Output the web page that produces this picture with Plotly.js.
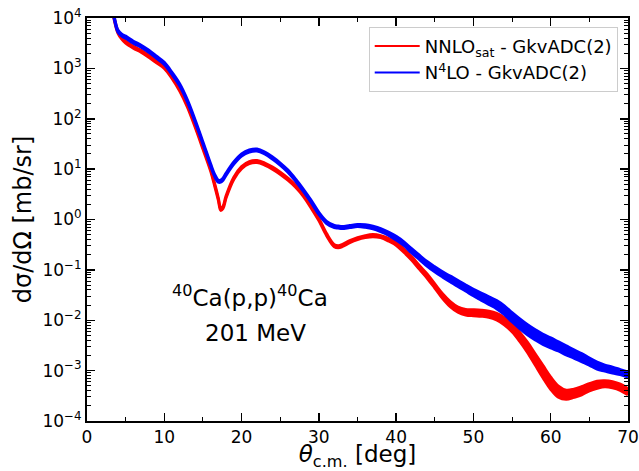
<!DOCTYPE html>
<html><head><meta charset="utf-8">
<script src="https://cdn.plot.ly/plotly-3.0.1.min.js"></script>
<style>body{margin:0;background:#fff}#chart{width:639px;height:471px}</style>
</head><body><div id="chart"></div>
<script>
// scattering angle (deg)
const theta = [3.0,3.5,4.0,4.5,5,6,7,8,9,10,11,12,13,14,15,16,16.5,17,17.3,17.6,18,19,20,21,22,23,24,25,26,27,28,29,30,31,32,32.5,33,34,35,36,37,38,39,40,41,42,43,44,45,46,47,48,49,50,51,52,53,54,55,56,57,58,59,60,61,62,63,64,65,66,67,68,69,70];
// log10 of dσ/dΩ, band centre, NNLOsat
const redLogCenter = [4.4,4.0,3.72,3.6,3.52,3.42,3.34,3.24,3.13,3.02,2.82,2.57,2.25,1.85,1.42,0.98,0.70,0.40,0.20,0.24,0.45,0.82,1.03,1.13,1.15,1.10,1.02,0.92,0.80,0.66,0.48,0.25,0.0,-0.30,-0.52,-0.54,-0.52,-0.44,-0.38,-0.34,-0.32,-0.34,-0.40,-0.48,-0.62,-0.77,-0.95,-1.12,-1.32,-1.52,-1.68,-1.79,-1.84,-1.85,-1.86,-1.88,-1.93,-2.02,-2.15,-2.33,-2.54,-2.78,-3.02,-3.25,-3.42,-3.48,-3.45,-3.40,-3.33,-3.28,-3.26,-3.28,-3.33,-3.42];
// band half-width in log10, NNLOsat
const redLogHalf = [0.02,0.02,0.02,0.02,0.02,0.02,0.02,0.02,0.02,0.02,0.02,0.02,0.02,0.02,0.02,0.02,0.02,0.02,0.02,0.02,0.02,0.02,0.02,0.02,0.02,0.02,0.02,0.02,0.02,0.02,0.02,0.02,0.02,0.02,0.02,0.02,0.02,0.02,0.02,0.02,0.02,0.02,0.025,0.03,0.03,0.035,0.035,0.04,0.04,0.045,0.05,0.05,0.055,0.06,0.06,0.06,0.065,0.07,0.08,0.09,0.10,0.11,0.12,0.12,0.11,0.09,0.08,0.08,0.07,0.07,0.06,0.06,0.06,0.06];
// log10 of dσ/dΩ, band centre, N4LO
const blueLogCenter = [4.4,4.02,3.74,3.66,3.62,3.52,3.44,3.34,3.22,3.10,2.90,2.67,2.35,1.95,1.52,1.08,0.88,0.76,0.76,0.80,0.90,1.12,1.28,1.36,1.38,1.32,1.22,1.10,0.96,0.78,0.58,0.36,0.12,-0.06,-0.14,-0.15,-0.16,-0.14,-0.12,-0.13,-0.16,-0.21,-0.28,-0.37,-0.48,-0.62,-0.75,-0.88,-0.99,-1.09,-1.18,-1.27,-1.36,-1.45,-1.53,-1.61,-1.69,-1.80,-1.94,-2.07,-2.19,-2.29,-2.38,-2.45,-2.52,-2.60,-2.67,-2.74,-2.82,-2.90,-2.95,-2.99,-3.03,-3.08];
// band half-width in log10, N4LO
const blueLogHalf = [0.02,0.02,0.02,0.02,0.02,0.02,0.02,0.02,0.02,0.02,0.02,0.02,0.02,0.02,0.02,0.02,0.02,0.02,0.02,0.02,0.02,0.02,0.02,0.02,0.02,0.02,0.02,0.02,0.02,0.02,0.02,0.02,0.02,0.02,0.02,0.02,0.02,0.02,0.02,0.025,0.025,0.03,0.03,0.035,0.035,0.04,0.04,0.045,0.05,0.05,0.055,0.06,0.06,0.065,0.07,0.075,0.08,0.085,0.09,0.095,0.10,0.10,0.10,0.10,0.09,0.09,0.08,0.08,0.07,0.07,0.06,0.06,0.05,0.05];

const seriesNames = ["NNLO<sub>sat</sub> - GkvADC(2)", "N<sup>4</sup>LO - GkvADC(2)"];
const seriesColors = ["#ff0000", "#0000ff"];
const xTicks = [0,10,20,30,40,50,60,70];
const yTickVals = [1e-4,1e-3,1e-2,1e-1,1e0,1e1,1e2,1e3,1e4];
const yTickText = ["10<sup>−4</sup>","10<sup>−3</sup>","10<sup>−2</sup>","10<sup>−1</sup>","10<sup>0</sup>","10<sup>1</sup>","10<sup>2</sup>","10<sup>3</sup>","10<sup>4</sup>"];

function band(center, half, color) {
  const lo = center.map((c,i)=>Math.pow(10, c - half[i]));
  const hi = center.map((c,i)=>Math.pow(10, c + half[i]));
  return [
    {x: theta, y: lo, mode:'lines', line:{color:color, width:3, shape:'spline'}, showlegend:false, hoverinfo:'skip'},
    {x: theta, y: hi, mode:'lines', line:{color:color, width:3, shape:'spline'}, fill:'tonexty', fillcolor:color, showlegend:false, hoverinfo:'skip'}
  ];
}

const data = [
  ...band(redLogCenter, redLogHalf, seriesColors[0]),
  ...band(blueLogCenter, blueLogHalf, seriesColors[1]),
  {x:[null], y:[null], mode:'lines', line:{color:seriesColors[0], width:2}, name:seriesNames[0]},
  {x:[null], y:[null], mode:'lines', line:{color:seriesColors[1], width:2}, name:seriesNames[1]}
];

const font = "DejaVu Sans, sans-serif";
const layout = {
  width:639, height:471,
  margin:{l:87, r:11, t:18, b:50},
  paper_bgcolor:'#fff', plot_bgcolor:'#fff',
  font:{family:font, color:'#000', size:17},
  showlegend:true,
  legend:{x:0.981, y:0.978, xanchor:'right', yanchor:'top', traceorder:'normal', bgcolor:'rgba(255,255,255,0.9)', bordercolor:'#cccccc', borderwidth:1, font:{size:18, family:font}, tracegroupgap:0, itemwidth:45},
  xaxis:{
    range:[0,70], tickvals:xTicks, ticks:'inside', ticklen:8, tickwidth:1.5, tickcolor:'#000',
    showline:true, linecolor:'#000', linewidth:2, mirror:'allticks', showgrid:false, zeroline:false,
    minor:{dtick:5, ticks:'inside', ticklen:4, tickwidth:1, tickcolor:'#000', showgrid:false},
    tickfont:{size:17},
    title:{text:'<i>θ</i><sub>c.m.</sub> [deg]', font:{size:23}, standoff:2}
  },
  yaxis:{
    type:'log', range:[-4,4], tickvals:yTickVals, ticktext:yTickText, ticks:'inside', ticklen:8, tickwidth:1.5, tickcolor:'#000',
    showline:true, linecolor:'#000', linewidth:2, mirror:'allticks', showgrid:false, zeroline:false,
    minor:{dtick:'D1', ticks:'inside', ticklen:4, tickwidth:1, tickcolor:'#000', showgrid:false},
    tickfont:{size:17},
    title:{text:'dσ/dΩ [mb/sr]', font:{size:24}, standoff:4}
  },
  annotations:[
    {xref:'x', yref:'paper', x:21.1, y:0.268, text:'<sup>40</sup>Ca(p,p)<sup>40</sup>Ca', showarrow:false, font:{size:23}},
    {xref:'x', yref:'paper', x:21.8, y:0.181, text:'201 MeV', showarrow:false, font:{size:23}}
  ]
};
Plotly.newPlot('chart', data, layout, {staticPlot:true});
</script></body></html>
